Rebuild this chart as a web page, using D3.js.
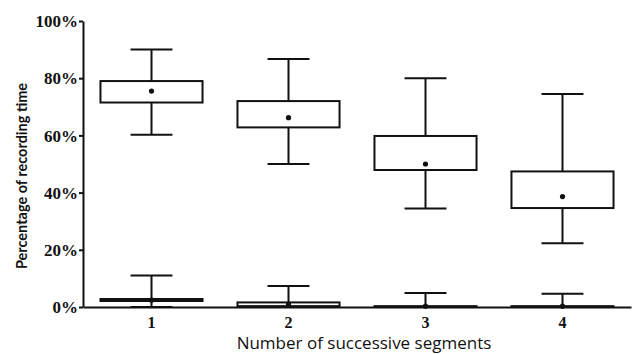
<!DOCTYPE html>
<html>
<head>
<meta charset="utf-8">
<script src="https://cdn.jsdelivr.net/npm/d3@7"></script>
<style>
  html, body { margin: 0; padding: 0; background: #fff; }
  svg { display: block; }
</style>
</head>
<body>
<svg id="chart" width="634" height="354"></svg>
<script>
// Number of successive segments on the x axis
const categories = ["1", "2", "3", "4"];

// Upper group of boxes (percentage of recording time)
const upperMax  = [90, 86.7, 80, 74.5];
const upperQ3   = [79, 72, 59.8, 47.4];
const upperMean = [75.5, 66.2, 50, 38.6];
const upperQ1   = [71.5, 62.8, 47.9, 34.6];
const upperMin  = [60.2, 50, 34.4, 22.3];

// Lower group of boxes, close to zero
const lowerMax  = [11, 7.3, 4.9, 4.6];
const lowerQ3   = [2.8, 1.6, 0.3, 0.3];
const lowerMean = [2.4, 0.9, 0.3, 0.3];
const lowerQ1   = [2.1, 0.3, 0, 0];
const lowerMin  = [0, 0, 0, 0];

const yTicks = [0, 20, 40, 60, 80, 100];

const svg = d3.select("#chart");
const plotLeft = 83, plotRight = 631, plotTop = 21, plotBottom = 307;

const x = d3.scaleBand().domain(categories).range([plotLeft, plotRight]).padding(0);
const y = d3.scaleLinear().domain([0, 100]).range([plotBottom, plotTop]);

const boxW = x.bandwidth() * 0.745;
const capW = x.bandwidth() * 0.306;
const ink = "#111";

function drawBoxes(maxV, q3, mean, q1, minV) {
  const g = svg.append("g");
  categories.forEach((c, i) => {
    const cx = x(c) + x.bandwidth() / 2;
    // whiskers
    g.append("line").attr("x1", cx).attr("x2", cx)
      .attr("y1", y(maxV[i])).attr("y2", y(q3[i]))
      .attr("stroke", ink).attr("stroke-width", 2);
    g.append("line").attr("x1", cx).attr("x2", cx)
      .attr("y1", y(q1[i])).attr("y2", y(minV[i]))
      .attr("stroke", ink).attr("stroke-width", 2);
    // caps
    g.append("line").attr("x1", cx - capW / 2).attr("x2", cx + capW / 2)
      .attr("y1", y(maxV[i])).attr("y2", y(maxV[i]))
      .attr("stroke", ink).attr("stroke-width", 2);
    g.append("line").attr("x1", cx - capW / 2).attr("x2", cx + capW / 2)
      .attr("y1", y(minV[i])).attr("y2", y(minV[i]))
      .attr("stroke", ink).attr("stroke-width", 2);
    // box
    g.append("rect")
      .attr("x", cx - boxW / 2).attr("width", boxW)
      .attr("y", y(q3[i])).attr("height", Math.max(0.01, y(q1[i]) - y(q3[i])))
      .attr("fill", "#fff").attr("stroke", ink).attr("stroke-width", 2);
    // mean
    g.append("circle").attr("cx", cx).attr("cy", y(mean[i])).attr("r", 2.6).attr("fill", ink);
  });
}

drawBoxes(upperMax, upperQ3, upperMean, upperQ1, upperMin);
drawBoxes(lowerMax, lowerQ3, lowerMean, lowerQ1, lowerMin);

// y axis
const yAxis = svg.append("g")
  .attr("transform", `translate(${plotLeft},0)`)
  .call(d3.axisLeft(y).tickValues(yTicks).tickFormat(d => d + "%").tickSize(4).tickSizeOuter(0));
yAxis.select(".domain").attr("stroke", ink).attr("stroke-width", 2);
yAxis.selectAll(".tick line").attr("stroke", ink).attr("stroke-width", 2);
yAxis.selectAll(".tick text")
  .attr("font-family", "Liberation Serif").attr("font-size", 17).attr("font-weight", "bold")
  .attr("fill", ink).attr("x", -5).attr("dy", "0.34em");

// x axis
const xAxis = svg.append("g")
  .attr("transform", `translate(0,${plotBottom})`)
  .call(d3.axisBottom(x).tickSize(0).tickSizeOuter(0));
xAxis.select(".domain").attr("stroke", ink).attr("stroke-width", 2);
xAxis.selectAll(".tick text")
  .attr("font-family", "Liberation Serif").attr("font-size", 16).attr("font-weight", "bold")
  .attr("fill", ink).attr("y", 0).attr("dy", "1.3em");

// axis titles
svg.append("text")
  .attr("x", 364).attr("y", 349)
  .attr("text-anchor", "middle")
  .attr("font-family", "Open Sans").attr("font-size", 17).attr("fill", ink)
  .text("Number of successive segments");

svg.append("text")
  .attr("transform", "translate(27,176) rotate(-90)")
  .attr("text-anchor", "middle")
  .attr("font-family", "Lato").attr("font-weight", "bold").attr("font-size", 14.5).attr("fill", ink)
  .text("Percentage of recording time");
</script>
</body>
</html>
